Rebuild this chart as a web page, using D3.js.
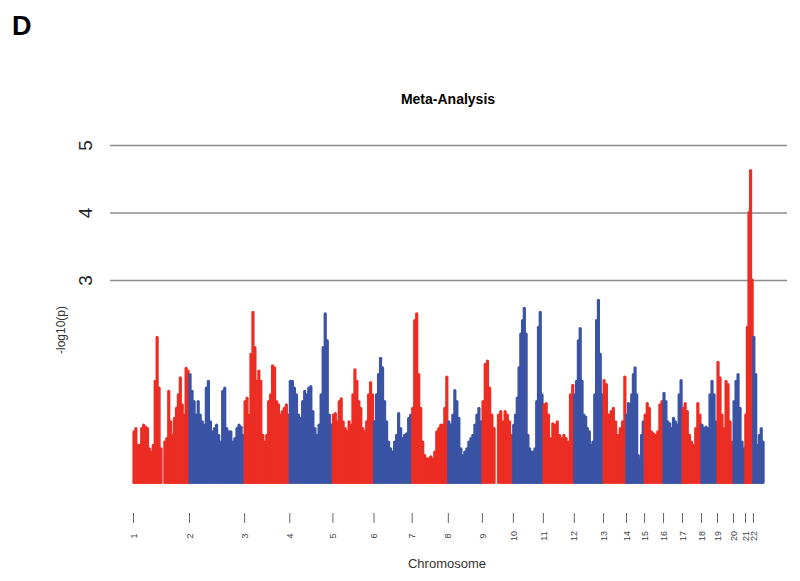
<!DOCTYPE html>
<html>
<head>
  <meta charset="utf-8">
  <title>Meta-Analysis</title>
  <script src="https://d3js.org/d3.v7.min.js"></script>
  <style>
    body { margin: 0; background: #fff; }
    svg text { font-family: "Liberation Sans", Arial, Helvetica, sans-serif; }
  </style>
</head>
<body>
<div id="chart"></div>
<script>

// chromosome names and the span (Mb covered by SNPs) of each one
const chromosomes = ["1","2","3","4","5","6","7","8","9","10","11","12","13","14","15","16","17","18","19","20","21","22"];
const chrSpan = [248,244,200,191,182,169,160,151,137,133,137,129,102,80,84,84,84,71,71,53,35,49];

// top of the point cloud (-log10 p) along each chromosome (null = no SNPs)
const chrPeaks = [
  [0.75,0.8,0.55,0.55,0.8,0.85,0.82,0.8,0.5,0.45,0.55,1.5,2.15,1.4,0.5,null,0.6,0.65,1.35,0.9,0.7,0.95,1.1,1.3,1.55,1.15,1.0,1.69,1.65],
  [1.6,1.35,1.2,1.0,1.2,1.0,0.9,0.85,1.4,1.5,0.9,0.75,0.8,0.85,0.7,0.6,1.35,1.4,0.8,0.75,0.75,0.6,0.65,0.8,0.85,0.82,0.7],
  [1.2,1.25,1.0,1.9,2.52,2.0,1.5,1.65,1.5,0.7,0.6,0.7,1.2,1.3,1.73,1.7,1.2,1.15,1.0,1.05,1.1,1.15,1.0],
  [1.5,1.5,1.4,1.3,1.0,0.95,1.2,1.35,1.3,1.4,1.42,1.05,0.8,0.7,0.85,1.3,2.0,2.5,2.1,1.0,0.85],
  [1.0,1.02,0.9,1.2,1.24,0.9,0.8,0.75,0.9,0.85,1.3,1.67,1.5,1.2,1.1,0.8,0.75,0.9,1.3,1.48,1.3],
  [0.9,1.3,1.6,1.84,1.7,1.2,0.9,0.6,0.5,0.45,0.6,0.7,1.02,0.8,0.65,0.7,0.72,0.95,1.0],
  [1.1,2.4,2.5,1.6,1.1,0.6,0.4,0.35,0.35,0.38,0.35,0.45,0.75,0.8,0.85,0.85,1.1,1.56],
  [0.9,0.85,1.0,1.36,1.2,0.95,0.5,0.4,0.45,0.5,0.6,0.65,0.7,0.85,1.0,1.1,0.9],
  [1.2,1.75,1.8,1.4,1.0,0.8,null,1.0,1.05,0.9,1.05,1.0,0.9,0.7],
  [0.85,1.0,1.25,1.7,2.2,2.4,2.58,2.2,0.7,0.5,0.45,0.45,0.5,1.2,2.3,2.52,1.3],
  [1.15,1.17,1.0,0.65,0.87,0.85,0.9,0.7,0.65,0.7,0.65,0.6,1.3,1.44],
  [1.3,1.5,2.1,2.28,1.5,1.0,0.97,0.8,0.75,0.55,0.6,1.3,2.4,2.7,1.9,1.3],
  [1.51,1.45,1.0,1.05,1.1,0.9,0.7,0.8,0.9,1.56],
  [1.0,1.17,1.15,1.3,1.6,1.7,1.3,0.4,0.33,0.7,0.9],
  [1.0,1.17,1.1,0.75,0.72,0.7,0.75,1.15,1.2],
  [1.32,1.2,0.9,0.87,0.8,0.95,0.9,0.85,1.3,1.51],
  [1.1,1.17,1.05,0.7,0.6,0.55,0.8,1.17,1.0],
  [0.85,0.8,0.82,0.8,1.3,1.5,1.3,0.9],
  [1.78,1.55,1.0,0.8,1.5,1.45,0.9,0.6],
  [1.2,1.5,1.6,1.1,0.6,0.5],
  [1.0,2.3,4.0,4.62,3.0],
  [2.15,1.6,0.55,0.7,0.8,0.6]
];

const yTicks = [3, 4, 5];

const width = 800, height = 581;
const colors = ["#ec2d24", "#3a53a4"];

const svg = d3.select("#chart").append("svg")
  .attr("width", width)
  .attr("height", height);

// cumulative start of every chromosome
const chrStart = [];
let acc = 0;
chrSpan.forEach(s => { chrStart.push(acc); acc += s; });

const x = d3.scaleLinear().domain([0, acc]).range([133, 764]);
const y = d3.scaleLinear().domain([0, 5]).range([482.5, 145]);

// horizontal grid lines with rotated labels
const yAxis = svg.append("g")
  .attr("transform", "translate(110,0)")
  .call(d3.axisLeft(y).tickValues(yTicks).tickSize(-677).tickFormat(d3.format("d")));
yAxis.select(".domain").remove();
yAxis.selectAll(".tick line").attr("stroke", "#8c8c8c").attr("stroke-width", 1.4);
yAxis.selectAll(".tick text")
  .attr("x", 0).attr("dy", 0)
  .attr("transform", "translate(-18,0) rotate(-90)")
  .attr("text-anchor", "middle")
  .attr("fill", "#222")
  .style("font-size", "19px");

// the point cloud, one column per sampled position
chrPeaks.forEach((vals, c) => {
  const n = vals.length;
  const step = chrSpan[c] / n;
  const g = svg.append("g");
  g.selectAll("line")
    .data(vals.map((v, i) => ({pos: chrStart[c] + (i + 0.5) * step, v: v})).filter(d => d.v !== null))
    .enter().append("line")
      .attr("x1", d => x(d.pos))
      .attr("x2", d => x(d.pos))
      .attr("y1", y(0))
      .attr("y2", d => y(d.v))
      .attr("stroke", colors[c % 2])
      .attr("stroke-width", 3.2)
      .attr("stroke-linecap", "round");
});

// chromosome axis
const xAxis = svg.append("g")
  .attr("transform", "translate(0,513)")
  .call(d3.axisBottom(x).tickValues(chrStart).tickSize(10).tickFormat((d, i) => chromosomes[i]));
xAxis.select(".domain").remove();
xAxis.selectAll(".tick line").attr("stroke", "#666").attr("stroke-width", 1);
xAxis.selectAll(".tick text")
  .attr("y", 0).attr("dy", "0.35em")
  .attr("transform", "translate(0,23) rotate(-90)")
  .attr("text-anchor", "middle")
  .attr("fill", "#444")
  .style("font-size", "9px");

// titles and labels
svg.append("text")
  .attr("x", 12).attr("y", 35)
  .style("font-size", "27px").style("font-weight", "bold")
  .text("D");

svg.append("text")
  .attr("x", 448).attr("y", 104)
  .attr("text-anchor", "middle")
  .style("font-size", "14px").style("font-weight", "bold")
  .text("Meta-Analysis");

svg.append("text")
  .attr("x", 447).attr("y", 568)
  .attr("text-anchor", "middle")
  .attr("fill", "#333")
  .style("font-size", "13px")
  .text("Chromosome");

svg.append("text")
  .attr("transform", "translate(65,330) rotate(-90)")
  .attr("text-anchor", "middle")
  .attr("fill", "#333")
  .style("font-size", "12px")
  .text("-log10(p)");

</script>
</body>
</html>
